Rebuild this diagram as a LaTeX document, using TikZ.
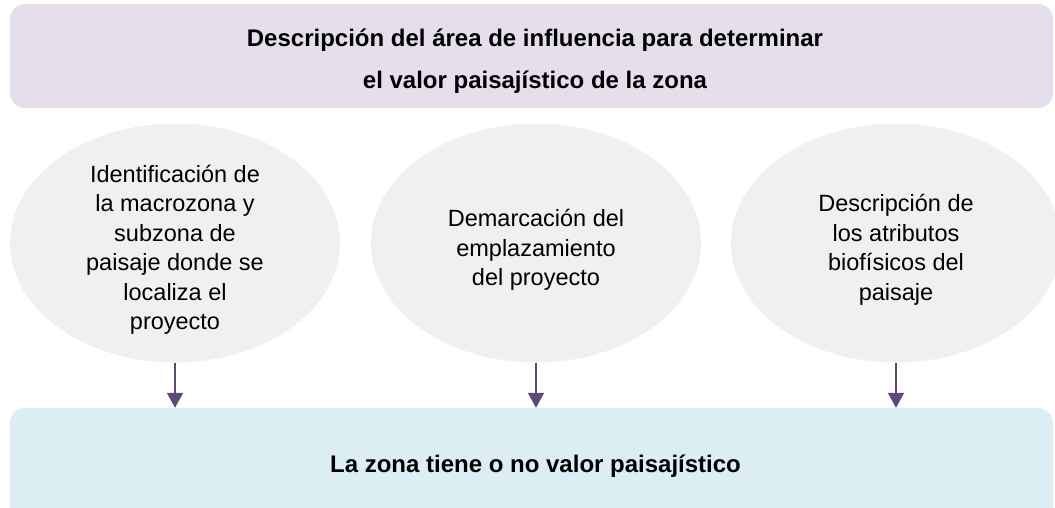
\documentclass[tikz,border=0pt]{standalone}
\usepackage{fontspec}
\setmainfont{Liberation Sans}
\usetikzlibrary{shapes.geometric,arrows.meta}
\definecolor{topfill}{HTML}{E5DFEC}
\definecolor{ellfill}{HTML}{F0F0F0}
\definecolor{botfill}{HTML}{DAEEF3}
\definecolor{arrowcol}{HTML}{5F497A}
\begin{document}
\begin{tikzpicture}[x=1pt,y=-1pt,
  banner/.style={rectangle, rounded corners=15pt, inner sep=0pt, draw=none},
  stepell/.style={ellipse, fill=ellfill, minimum width=330pt, minimum height=239pt, inner sep=0pt},
  steptext/.style={align=center, inner sep=0pt, font=\fontsize{23.5}{29.5}\selectfont},
  flow/.style={draw=arrowcol, line width=2pt, -{Triangle[width=16pt,length=15pt]}},
  boldtxt/.style={font=\fontsize{24}{42}\selectfont\bfseries, align=center, inner sep=0pt}]
\useasboundingbox (0,0) rectangle (1055,507);
\clip (0,0) rectangle (1055,507);
\node[banner, fill=topfill, minimum width=1043pt, minimum height=104pt] (top) at (531.5,56) {};
\node[boldtxt, anchor=base] (toptext) at (535,88) {Descripción del área de influencia para determinar\\el valor paisajístico de la zona};
\node[banner, fill=botfill, minimum width=1043pt, minimum height=130pt] (bottom) at (531.5,473) {};
\node[boldtxt, anchor=base] (bottext) at (535.5,472) {La zona tiene o no valor paisajístico};
\node[stepell] (e1) at (175,243) {};
\node[stepell] (e2) at (536,243) {};
\node[stepell] (e3) at (896,243) {};
\node[steptext] (t1) at ([yshift=-7pt]e1.center) {Identificación de\\la macrozona y\\subzona de\\paisaje donde se\\localiza el\\proyecto};
\node[steptext] (t2) at ([yshift=-7pt]e2.center) {Demarcación del\\emplazamiento\\del proyecto};
\node[steptext] (t3) at ([yshift=-7pt]e3.center) {Descripción de\\los atributos\\biofísicos del\\paisaje};
\draw[flow] (e1.south) -- (e1.south |- bottom.north);
\draw[flow] (e2.south) -- (e2.south |- bottom.north);
\draw[flow] (e3.south) -- (e3.south |- bottom.north);
\end{tikzpicture}
\end{document}
